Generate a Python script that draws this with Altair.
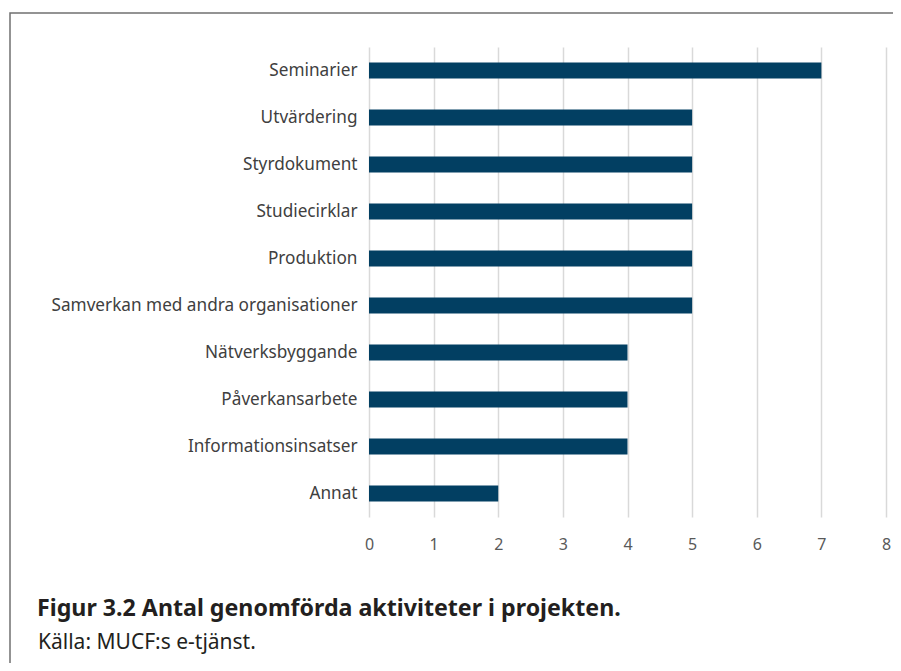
import altair as alt
import pandas as pd

categories = [
    "Seminarier",
    "Utvärdering",
    "Styrdokument",
    "Studiecirklar",
    "Produktion",
    "Samverkan med andra organisationer",
    "Nätverksbyggande",
    "Påverkansarbete",
    "Informationsinsatser",
    "Annat",
]
values = [7, 5, 5, 5, 5, 5, 4, 4, 4, 2]
x_ticks = [0, 1, 2, 3, 4, 5, 6, 7, 8]

title_text = ["Figur 3.2 Antal genomförda aktiviteter i projekten."]
source_text = ["Källa: MUCF:s e-tjänst."]

df = pd.DataFrame({"kategori": categories, "antal": values})

FONT = "Noto Sans"
W, H = 517, 470

border = alt.Chart(pd.DataFrame({"d": [0]})).mark_rect(
    fill=None, stroke="#707070", strokeWidth=1.5, clip=False
).encode(
    x=alt.value(-359), x2=alt.value(560), y=alt.value(-34), y2=alt.value(700)
)

bars = alt.Chart(df).mark_bar(color="#023F62").encode(
    x=alt.X(
        "antal:Q",
        scale=alt.Scale(domain=[0, 8], nice=False),
        axis=alt.Axis(
            values=x_ticks,
            title=None,
            grid=True,
            gridColor="#d9d9d9",
            gridWidth=1.5,
            domain=False,
            ticks=False,
            labelFont=FONT,
            labelFontSize=16,
            labelColor="#595959",
            labelPadding=19,
            labelFlush=False,
            format="d",
        ),
    ),
    y=alt.Y(
        "kategori:N",
        sort=categories,
        scale=alt.Scale(paddingInner=0.66, paddingOuter=0.33),
        axis=alt.Axis(
            title=None,
            domain=False,
            ticks=False,
            grid=False,
            labelFont=FONT,
            labelFontSize=17.2,
            labelColor="#404040",
            labelPadding=12,
            labelLimit=400,
        ),
    ),
)

title_mark = alt.Chart(pd.DataFrame({"t": title_text})).mark_text(
    font=FONT, fontSize=23.2, fontWeight="bold", color="#231f20",
    align="left", baseline="alphabetic", clip=False
).encode(text="t:N", x=alt.value(-332), y=alt.value(569))

source_mark = alt.Chart(pd.DataFrame({"t": source_text})).mark_text(
    font=FONT, fontSize=21, color="#231f20",
    align="left", baseline="alphabetic", clip=False
).encode(text="t:N", x=alt.value(-331), y=alt.value(602))

chart = alt.layer(border, bars, title_mark, source_mark).properties(
    width=W,
    height=H,
    autosize=alt.AutoSizeParams(type="none"),
    padding={"left": 361, "top": 39, "right": 7, "bottom": 146},
).configure_view(stroke=None)

chart.save("out.html", embed_options={"renderer": "svg", "actions": False})
